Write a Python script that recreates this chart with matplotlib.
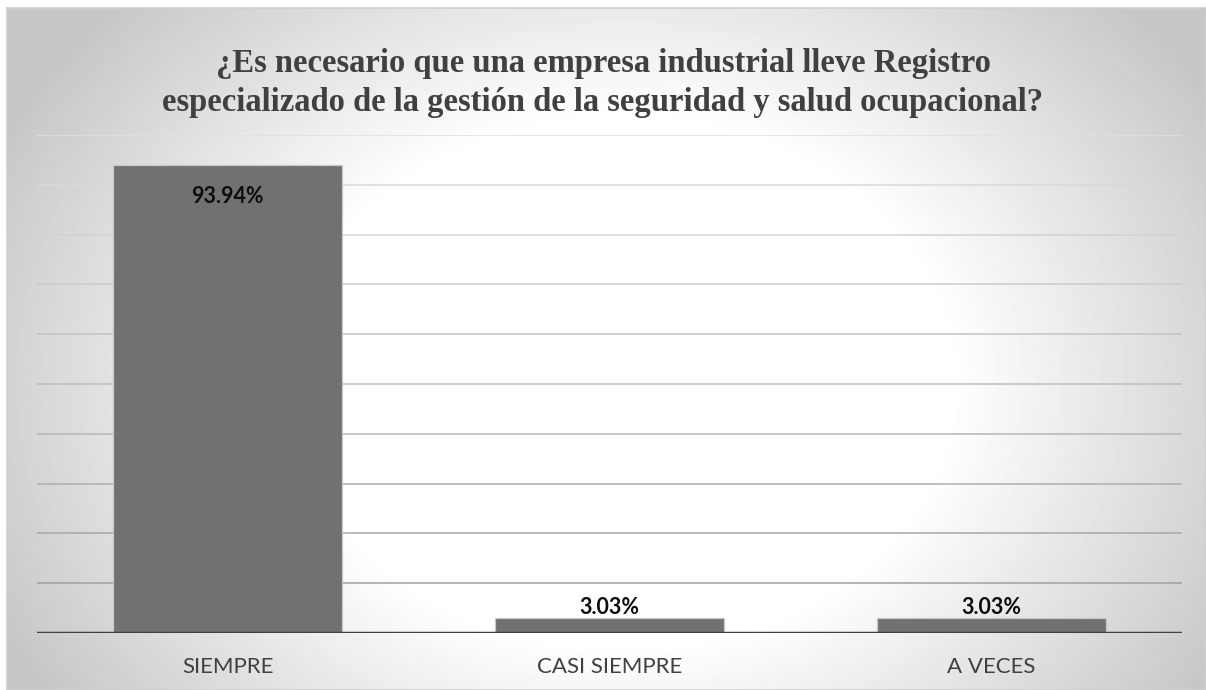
import numpy as np
import matplotlib
matplotlib.use('Agg')
import matplotlib.pyplot as plt

# Datos del gráfico
categorias = ['SIEMPRE', 'CASI SIEMPRE', 'A VECES']
porcentajes = [93.94, 3.03, 3.03]
etiquetas = ['93.94%', '3.03%', '3.03%']
titulo = ('¿Es necesario que una empresa industrial lleve Registro\n'
          'especializado de la gestión de la seguridad y salud ocupacional?')

W, H = 1206, 690
fig = plt.figure(figsize=(W / 100, H / 100), dpi=100)
fig.patch.set_facecolor('white')

# Fondo con degradado radial (zona del gráfico)
bg = fig.add_axes([7 / W, 0, 1 - 7 / W, 1 - 8 / H], zorder=0)
yy, xx = np.mgrid[0:683, 0:1199]
cx, cy = 615, 375
r = np.sqrt(((xx - cx) / 600.0) ** 2 + ((yy - cy) / 480.0) ** 2)
val = np.clip(1.0 - 0.22 * (r - 0.55) / 0.6, 0.78, 1.0)
bg.imshow(val, cmap='gray', vmin=0, vmax=1, aspect='auto',
          extent=[0, 1, 0, 1], origin='upper')
bg.set_xlim(0, 1)
bg.set_ylim(0, 1)
for s in bg.spines.values():
    s.set_color('#cfcfcf')
    s.set_linewidth(1.2)
bg.set_xticks([])
bg.set_yticks([])

# Área de trazado
ax = fig.add_axes([37 / W, (H - 633) / H, (1182 - 37) / W, (633 - 135) / H], zorder=1)
ax.patch.set_alpha(0)
x = np.arange(len(categorias))
ax.set_xlim(-0.5, len(categorias) - 0.5)
ax.set_ylim(0, 100)

# Líneas de cuadrícula (más claras arriba, más oscuras abajo)
for v in range(10, 101, 10):
    g = 0.60 + 0.28 * (v / 100.0)
    ax.axhline(v, color=(g, g, g), linewidth=1.1, zorder=1)

bars = ax.bar(x, porcentajes, width=0.6, color='#717171',
              edgecolor='#c8c8c8', linewidth=0.9, zorder=2)

# Línea base
ax.axhline(0, color='#404040', linewidth=2.5, zorder=3)

for b, val_, lab in zip(bars, porcentajes, etiquetas):
    cxb = b.get_x() + b.get_width() / 2
    if val_ > 50:
        ax.annotate(lab, (cxb, val_), xytext=(0, -27), textcoords='offset points',
                    ha='center', va='baseline', fontsize=15.5, fontweight='bold',
                    family='Lato', color='#0d0d0d', zorder=4)
    else:
        ax.annotate(lab, (cxb, val_), xytext=(0, 3), textcoords='offset points',
                    ha='center', va='baseline', fontsize=15.5, fontweight='bold',
                    family='Lato', color='#0d0d0d', zorder=4)

ax.set_xticks(x)
ax.set_xticklabels(categorias, family='Lato', fontsize=16, color='#404040')
ax.tick_params(axis='x', length=0, pad=17)
ax.set_yticks([])
for s in ax.spines.values():
    s.set_visible(False)

fig.text(603 / W, 1 - 83 / H, titulo, ha='center', va='center',
         family='Liberation Serif', fontweight='bold', fontsize=23.5,
         color='#404040', linespacing=1.35, zorder=5)

fig.savefig('out.png', dpi=100, facecolor=fig.get_facecolor())
